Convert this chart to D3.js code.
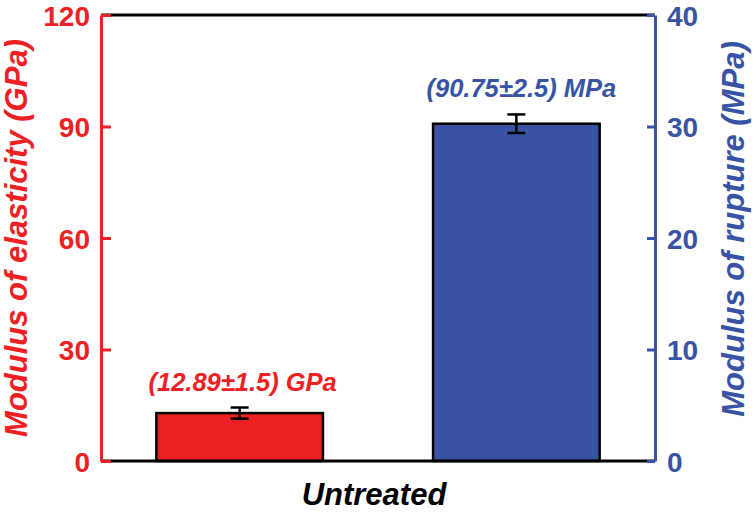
<!DOCTYPE html>
<html><head><meta charset="utf-8">
<script src="https://cdn.jsdelivr.net/npm/d3@7"></script>
<style>body{margin:0;background:#fff}svg{display:block}text{font-family:"Liberation Sans",Arial,sans-serif;font-weight:bold}</style>
</head><body><svg id="c" width="755" height="514"></svg>
<script>
const categories = ["Untreated"];
const seriesNames = ["Modulus of elasticity", "Modulus of rupture"];
const values = [12.89, 90.75];
const errors = [1.5, 2.5];
const barLabels = ["(12.89\u00B11.5) GPa", "(90.75\u00B12.5) MPa"];
const leftTicks = [0, 30, 60, 90, 120];
const rightTicks = [0, 10, 20, 30, 40];
const leftTitle = "Modulus of elasticity (GPa)";
const rightTitle = "Modulus of rupture (MPa)";

const RED = "#ED2024", BLUE = "#3953A4";
const colors = [RED, BLUE];
const svg = d3.select("#c");
const L = 101, R = 655, T = 15, B = 461;
const yL = d3.scaleLinear().domain([0, 120]).range([B, T]);
const yR = d3.scaleLinear().domain([0, 40]).range([B, T]);
const x = d3.scaleBand().domain(seriesNames).range([L, R]).paddingInner(0.398).paddingOuter(0.2);

// bars
const g = svg.append("g");
seriesNames.forEach((s, i) => {
  const x0 = x(s), w = x.bandwidth(), cx = x0 + w / 2;
  g.append("rect").attr("x", x0).attr("y", yL(values[i])).attr("width", w)
    .attr("height", yL(0) - yL(values[i])).attr("fill", colors[i])
    .attr("stroke", "#000").attr("stroke-width", 2.5);
  const top = yL(values[i] + errors[i]), bot = yL(values[i] - errors[i]);
  g.append("line").attr("x1", cx).attr("x2", cx).attr("y1", top).attr("y2", bot).attr("stroke", "#000").attr("stroke-width", 2.5);
  [top, bot].forEach(yy => g.append("line").attr("x1", cx - 9).attr("x2", cx + 9).attr("y1", yy).attr("y2", yy).attr("stroke", "#000").attr("stroke-width", 2.5));
  g.append("text").attr("x", cx + (i === 0 ? 3 : 5)).attr("y", i === 0 ? 391 : 97)
    .attr("text-anchor", "middle").attr("font-style", "italic").attr("font-size", 25.5)
    .attr("fill", colors[i]).text(barLabels[i]);
});

// frame top/bottom black
svg.append("line").attr("x1", L).attr("x2", R).attr("y1", T).attr("y2", T).attr("stroke", "#000").attr("stroke-width", 3);
svg.append("line").attr("x1", L).attr("x2", R).attr("y1", B).attr("y2", B).attr("stroke", "#000").attr("stroke-width", 3);

// left axis
const ax = svg.append("g").attr("transform", `translate(${L},0)`)
  .call(d3.axisLeft(yL).tickValues(leftTicks).tickSize(-10).tickPadding(11).tickSizeOuter(0));
ax.select(".domain").attr("stroke", RED).attr("stroke-width", 3);
ax.selectAll(".tick line").attr("stroke", RED).attr("stroke-width", 3);
ax.selectAll(".tick text").attr("fill", RED).attr("font-size", 28).attr("font-family", "Liberation Sans, Arial, sans-serif").attr("font-weight", "bold").attr("dy", "0.36em");

// right axis
const ar = svg.append("g").attr("transform", `translate(${R},0)`)
  .call(d3.axisRight(yR).tickValues(rightTicks).tickSize(-8).tickPadding(12).tickSizeOuter(0));
ar.select(".domain").attr("stroke", BLUE).attr("stroke-width", 3);
ar.selectAll(".tick line").attr("stroke", BLUE).attr("stroke-width", 3);
ar.selectAll(".tick text").attr("fill", BLUE).attr("font-size", 28).attr("font-family", "Liberation Sans, Arial, sans-serif").attr("font-weight", "bold").attr("dy", "0.36em");

// titles
svg.append("text").attr("transform", "translate(27,238) rotate(-90)").attr("text-anchor", "middle")
  .attr("font-style", "italic").attr("font-size", 31).attr("fill", RED).text(leftTitle);
svg.append("text").attr("transform", "translate(744,229) rotate(-90)").attr("text-anchor", "middle")
  .attr("font-style", "italic").attr("font-size", 31).attr("fill", BLUE).text(rightTitle);
svg.append("text").attr("x", 374).attr("y", 505).attr("text-anchor", "middle")
  .attr("font-style", "italic").attr("font-size", 31).attr("fill", "#000").text(categories[0]);
</script></body></html>
